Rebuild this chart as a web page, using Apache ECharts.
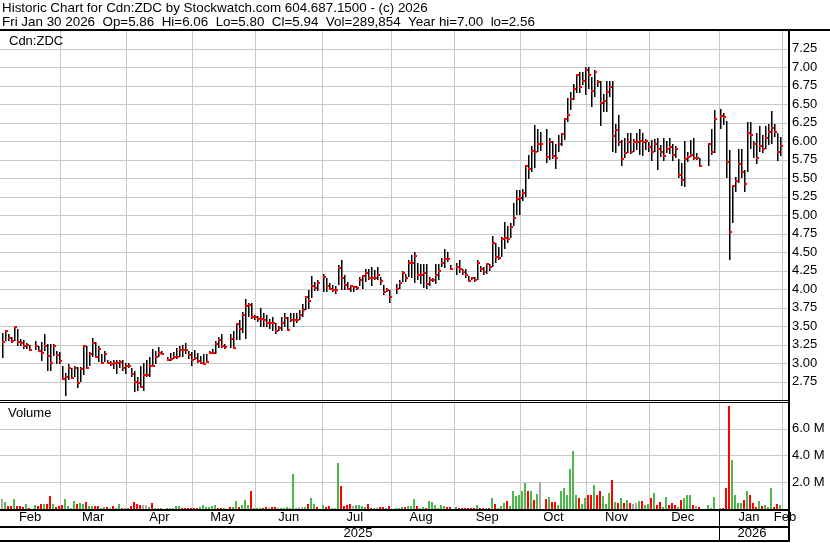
<!DOCTYPE html>
<html><head><meta charset="utf-8">
<script src="https://cdn.jsdelivr.net/npm/echarts@6/dist/echarts.min.js"></script>
<style>html,body{margin:0;padding:0;background:#fff;overflow:hidden}#c{width:830px;height:543px}</style>
</head><body><div id="c"></div>
<script>
// ---------- text ----------
const HEADER1 = 'Historic Chart for Cdn:ZDC by Stockwatch.com 604.687.1500 - (c) 2026';
const HEADER2 = 'Fri Jan 30 2026  Op=5.86  Hi=6.06  Lo=5.80  Cl=5.94  Vol=289,854  Year hi=7.00  lo=2.56';
const SYMBOL = 'Cdn:ZDC';
const VOL_TITLE = 'Volume';
const MONTHS = ['Jan','Feb','Mar','Apr','May','Jun','Jul','Aug','Sep','Oct','Nov','Dec'];
// axis ranges / ticks
const PRICE_MIN = 2.5, PRICE_MAX = 7.5, PRICE_STEP = 0.25;
const VOL_MIN = 0, VOL_MAX = 8e6, VOL_STEP = 2e6;
// weekday calendar of the chart (first slot .. last slot)
const FIRST_DAY = '2025-01-31', LAST_DAY = '2026-02-03', DATA_START = '2025-02-03';
// ---------- data: one entry per weekday from 2025-02-03 to 2026-01-30 (null = market closed) ----------
const high = [
 3.41,3.45,3.39,3.35,3.50,3.47,3.33,3.31,3.28,3.25,null,3.30,3.24,3.29,3.40,3.26,3.26,3.26,3.17,3.15,
 2.97,2.87,2.99,2.93,2.97,2.95,2.95,3.25,3.24,3.15,3.34,3.29,3.24,3.13,3.16,3.04,3.03,3.04,3.04,3.04,3.04,
 3.00,3.00,2.93,2.90,2.81,2.97,3.01,3.04,3.09,3.20,3.17,3.22,3.17,null,3.08,3.14,3.15,3.21,3.23,3.25,3.27,3.16,
 3.15,3.18,3.14,3.10,3.12,3.12,3.16,3.19,3.30,3.35,3.40,3.26,null,3.40,3.44,3.55,3.58,3.70,3.87,3.81,3.81,3.65,
 3.64,3.75,3.68,3.65,3.60,3.63,3.54,3.51,3.63,3.68,3.62,3.68,3.68,3.68,3.72,3.80,3.91,3.99,4.18,4.10,4.12,
 null,4.21,4.15,4.09,4.06,4.04,4.33,4.39,4.20,4.10,4.06,4.05,4.04,4.16,4.20,4.27,4.27,4.30,4.26,4.30,4.16,4.06,4.02,
 3.99,null,4.07,4.13,4.25,4.21,4.40,4.46,4.51,4.36,4.34,4.34,4.34,4.17,4.15,4.34,4.34,4.42,4.54,4.51,4.33,
 null,4.35,4.39,4.28,4.27,4.18,4.17,4.17,4.40,4.32,4.30,4.36,4.34,4.72,4.62,4.57,4.71,4.91,4.85,4.90,5.17,5.34,
 5.34,5.35,5.68,5.82,5.93,6.22,6.17,6.12,null,6.17,6.04,6.00,5.96,6.08,6.10,6.31,6.58,6.67,6.78,6.90,6.94,6.94,7.00,
 7.00,6.87,6.97,6.83,6.81,6.64,6.81,6.82,6.82,6.24,6.36,6.02,6.05,6.11,6.11,6.03,6.11,6.17,6.11,6.03,
 5.99,6.02,6.03,6.04,5.95,6.04,6.01,6.04,5.96,5.93,5.76,5.71,6.01,5.85,6.02,6.05,5.84,5.78,null,null,5.97,6.16,6.42,
 null,6.43,6.38,6.28,5.88,5.41,5.52,5.90,5.90,5.61,6.26,6.26,6.00,6.11,6.20,6.09,6.20,6.24,6.41,6.24,6.11,6.06];
const low = [
 3.07,3.30,3.30,3.28,3.30,3.24,3.24,3.19,3.20,3.18,null,3.18,3.15,3.03,3.17,2.90,2.89,3.10,2.99,2.99,
 2.77,2.56,2.77,2.79,2.81,2.66,2.75,2.84,2.92,2.97,3.08,3.08,3.02,3.00,3.02,3.00,2.97,2.92,2.86,2.93,2.89,
 2.86,2.93,2.82,2.61,2.63,2.66,2.63,2.81,2.81,2.97,2.99,3.08,3.12,null,3.03,3.03,3.06,3.06,3.09,3.09,3.12,3.06,
 2.96,3.04,3.00,3.00,2.98,3.01,3.12,3.12,3.12,3.21,3.21,3.20,null,3.21,3.19,3.31,3.31,3.41,3.33,3.62,3.60,3.58,
 3.56,3.49,3.49,3.49,3.47,3.43,3.40,3.43,3.44,3.49,3.44,3.56,3.49,3.54,3.58,3.62,3.72,3.74,3.88,3.98,3.98,
 null,3.97,3.97,3.99,3.96,3.94,4.06,3.99,3.99,3.99,3.97,3.96,3.99,4.04,4.01,4.10,4.13,4.04,4.12,4.12,4.06,3.92,3.97,
 3.82,null,3.93,4.00,4.10,4.10,4.17,4.15,4.08,4.13,4.07,4.02,4.00,4.04,4.10,4.07,4.13,4.30,4.29,4.37,4.26,
 null,4.19,4.22,4.19,4.15,4.10,4.13,4.10,4.13,4.23,4.19,4.21,4.25,4.30,4.35,4.40,4.43,4.55,4.63,4.69,4.85,5.00,
 5.00,5.20,5.25,5.49,5.58,5.64,5.85,5.87,null,5.71,5.75,5.76,5.62,5.85,5.93,6.02,6.26,6.42,6.56,6.65,6.65,6.76,6.63,
 6.70,6.47,6.60,6.74,6.21,6.40,6.40,6.60,5.86,5.84,5.94,5.66,5.77,5.84,5.83,5.85,5.88,5.81,5.80,5.88,
 5.86,5.73,5.86,5.61,5.79,5.74,5.84,5.83,5.74,5.78,5.51,5.40,5.38,5.72,5.79,5.75,5.75,5.66,null,null,5.67,5.81,5.84,
 null,6.17,6.22,5.51,4.40,4.89,5.32,5.43,5.51,5.32,5.59,5.90,5.77,5.70,5.86,5.84,5.90,5.95,5.97,6.06,5.73,5.80];
const close = [
 3.29,3.44,3.34,3.30,3.49,3.29,3.27,3.23,3.25,3.18,null,3.23,3.16,3.14,3.23,3.10,3.00,3.24,3.11,3.03,
 2.79,2.82,2.93,2.80,2.93,2.73,2.92,3.23,2.94,3.13,3.28,3.08,3.19,3.01,3.13,3.00,2.99,3.00,3.00,3.02,2.93,
 2.97,2.97,2.86,2.75,2.74,2.68,2.84,2.84,2.97,2.97,3.09,3.14,3.13,null,3.05,3.06,3.09,3.08,3.18,3.18,3.18,3.11,
 3.04,3.07,3.03,3.00,2.99,3.02,3.14,3.14,3.26,3.32,3.23,3.22,null,3.33,3.21,3.53,3.46,3.65,3.78,3.79,3.63,3.62,
 3.60,3.60,3.58,3.55,3.55,3.55,3.44,3.48,3.55,3.61,3.45,3.58,3.58,3.58,3.65,3.72,3.89,3.84,4.05,4.02,4.08,
 null,4.16,4.04,4.01,3.99,3.99,4.29,4.15,4.06,4.01,4.04,4.03,4.02,4.12,4.18,4.22,4.15,4.15,4.15,4.19,4.11,3.96,3.99,
 3.90,null,4.01,4.08,4.22,4.15,4.35,4.35,4.45,4.19,4.19,4.22,4.07,4.13,4.13,4.19,4.25,4.36,4.41,4.41,4.28,
 null,4.30,4.28,4.24,4.19,4.11,4.15,4.13,4.36,4.28,4.24,4.34,4.30,4.63,4.43,4.42,4.68,4.70,4.68,4.84,4.96,5.22,
 5.24,5.30,5.66,5.62,5.87,5.85,5.96,5.96,null,5.79,5.99,5.80,5.77,5.97,6.10,6.30,6.35,6.57,6.71,6.89,6.74,6.81,6.96,
 6.89,6.68,6.94,6.80,6.52,6.54,6.66,6.73,6.07,6.15,5.99,5.76,5.84,5.99,5.85,5.99,5.99,6.01,5.99,6.00,
 5.92,5.86,5.97,5.89,5.86,5.80,5.89,5.92,5.81,5.89,5.54,5.48,5.76,5.79,5.82,5.77,5.77,5.67,null,null,5.96,5.86,6.30,
 null,6.34,6.33,5.72,4.77,5.40,5.47,5.69,5.58,5.42,6.11,6.09,5.96,5.78,5.94,5.90,6.05,6.12,6.18,6.13,5.86,5.94];
// volume in millions of shares
const volumeM = [
 0.72,0.54,0.20,0.26,0.72,0.26,0.26,0.15,0.41,0.10,null,0.31,0.20,0.41,0.36,0.41,0.95,0.36,0.15,0.26,
 0.31,0.72,0.23,0.08,0.62,0.41,0.46,0.41,0.54,0.20,0.26,0.23,0.23,0.03,0.15,0.18,0.05,0.26,0.05,0.38,0.08,
 0.05,0.02,0.20,0.51,0.38,0.31,0.31,0.31,0.18,0.46,0.08,0.08,0.08,null,0.03,0.03,0.05,0.20,0.20,0.03,0.03,0.08,
 0.08,0.03,0.03,0.15,0.28,0.15,0.15,0.26,0.28,0.02,0.01,0.01,null,0.13,0.18,0.59,0.18,0.31,0.69,0.31,1.31,0.03,
 0.03,0.01,0.03,0.18,0.08,0.13,0.15,0.01,0.03,0.01,0.15,0.03,2.62,0.03,0.18,0.15,0.18,0.41,0.85,0.36,0.15,
 null,0.31,0.18,0.23,0.01,0.01,3.46,1.69,0.23,0.33,0.36,0.23,0.28,0.31,0.23,0.18,0.36,0.01,0.08,0.08,0.13,0.15,0.01,
 0.26,null,0.08,0.08,0.15,0.15,0.23,0.26,0.72,0.23,0.02,0.18,0.08,0.62,0.54,0.31,0.02,0.31,0.26,0.18,0.18,
 null,0.18,0.02,0.02,0.02,0.08,0.03,0.05,0.31,0.03,0.10,0.08,0.03,0.80,0.41,0.08,0.26,0.46,0.62,0.26,1.38,0.97,
 1.03,1.31,1.92,1.33,1.38,0.64,1.10,2.00,null,0.77,0.92,0.54,0.51,0.33,1.38,1.56,1.03,3.00,4.31,1.08,0.80,0.41,0.80,
 1.03,1.03,1.77,1.03,1.38,0.97,0.41,1.23,2.15,0.51,0.46,0.80,0.44,0.67,0.46,0.36,0.46,0.59,0.59,0.28,
 0.36,0.85,1.23,0.33,0.54,0.18,0.87,0.33,0.46,0.28,0.15,0.67,0.80,1.08,1.03,0.31,0.23,0.18,null,null,0.31,0.05,0.87,
 null,0.08,0.08,1.54,7.72,3.69,1.08,0.46,0.46,0.64,1.36,1.08,0.46,0.15,0.62,0.26,0.31,0.18,1.54,0.15,0.36,0.29];
// volume bar colour per day: u = up, d = down, n = unchanged, . = closed
const volumeDir =
 'nuddudddud.udduddudd' + 'duuuuduuduudduududuud' + 'nuddddnnuduuu.uuuuuddd' + 'ddduuuuuuddu.duuduuudu' +
 'uuddudduuuuuuunnuduud' + '.uddunuddddnuuuudduuddu' + 'd.uuuduuudnuduuuuuudd' + '.udddddduddududuuuduuu' +
 'uuududun.dudduuuuuuuduu' + 'ddudduuududududnnudu' + 'ududduuddduduuudnd..uuu' + '.uddduuuududdduduuuddu';
const DIR_COLORS = {u:'#4cb84c', d:'#ff0000', n:'#a8a8a8'};

// ---------- build ----------
const FONT = '"Liberation Sans", Arial, sans-serif';
const GRID_COLOR = '#c8c8c8';
const day = s => new Date(s + 'T00:00:00Z');
const cats = [];
for (let d = day(FIRST_DAY); d <= day(LAST_DAY); d.setUTCDate(d.getUTCDate() + 1)) {
  const w = d.getUTCDay(); if (w === 0 || w === 6) continue;
  cats.push(d.toISOString().slice(0, 10));
}
const off = cats.indexOf(DATA_START);
const priceData = [], volData = [], volColors = [];
for (let i = 0; i < high.length; i++) {
  if (high[i] == null) continue;
  priceData.push([i + off, high[i], low[i], close[i]]);
  volData.push([i + off, volumeM[i] * 1e6]);
  volColors.push(DIR_COLORS[volumeDir[i]] || DIR_COLORS.n);
}
// month boundary = last weekday on or before the 1st of the month
const monthLine = new Set(), yearLine = new Set();
cats.forEach((s, k) => {
  if (k === 0) return;
  const d = day(s);
  let m = -1;
  if (d.getUTCDate() === 1) m = d.getUTCMonth();
  else if (d.getUTCDay() === 5) {
    for (const add of [1, 2]) { const a = day(s); a.setUTCDate(a.getUTCDate() + add); if (a.getUTCDate() === 1) m = a.getUTCMonth(); }
  }
  if (m >= 0) { monthLine.add(k); if (m === 0) yearLine.add(k); }
});
const last = cats.length - 1;
const mb = [0, ...[...monthLine].sort((a, b) => a - b), last];
const monthLabel = new Map();
for (let j = 0; j < mb.length - 1; j++) { const m = Math.floor((mb[j] + mb[j + 1]) / 2); monthLabel.set(m, MONTHS[day(cats[m]).getUTCMonth()]); }
const yb = [0, ...[...yearLine].sort((a, b) => a - b), last];
const yearLabel = new Map();
for (let j = 0; j < yb.length - 1; j++) { const m = Math.floor((yb[j] + yb[j + 1]) / 2); yearLabel.set(m, String(day(cats[m]).getUTCFullYear())); }

const W = 788;
const hidden = {show: false};
function catAxis(grid, extra) {
  return Object.assign({type: 'category', gridIndex: grid, data: cats, boundaryGap: false,
    axisLine: hidden, axisTick: hidden, axisLabel: hidden,
    splitLine: {show: true, interval: (i) => monthLine.has(i), lineStyle: {color: GRID_COLOR, width: 1}}}, extra || {});
}
const chart = echarts.init(document.getElementById('c'), null, {renderer: 'canvas'});
chart.setOption({
  animation: false,
  backgroundColor: '#fff',
  grid: [
    {left: 0, width: W, top: 30.3, height: 370},
    {left: 0, width: W, top: 402, height: 107},
    {left: 0, width: W, top: 509, height: 32},
    {left: 0, width: W, top: 527, height: 14}
  ],
  xAxis: [
    catAxis(0),
    catAxis(1),
    catAxis(2, {position: 'top',
      axisLabel: {show: true, inside: true, margin: 2, interval: (i) => monthLabel.has(i),
        formatter: (v, i) => monthLabel.get(i) || '', fontSize: 13, fontFamily: FONT, color: '#000'},
      splitLine: {show: true, interval: (i) => yearLine.has(i), lineStyle: {color: '#000', width: 1}}}),
    catAxis(3, {position: 'top',
      axisLabel: {show: true, inside: true, margin: 0, interval: (i) => yearLabel.has(i),
        formatter: (v, i) => yearLabel.get(i) || '', fontSize: 13, fontFamily: FONT, color: '#000'},
      splitLine: hidden})
  ],
  yAxis: [
    {type: 'value', gridIndex: 0, position: 'right', min: PRICE_MIN, max: PRICE_MAX, interval: PRICE_STEP,
      axisLine: hidden, axisTick: hidden,
      axisLabel: {margin: 4, formatter: v => v.toFixed(2), showMinLabel: false, showMaxLabel: false,
        fontSize: 13, fontFamily: FONT, color: '#000'},
      splitLine: {lineStyle: {color: GRID_COLOR, width: 1}}},
    {type: 'value', gridIndex: 1, position: 'right', min: VOL_MIN, max: VOL_MAX, interval: VOL_STEP,
      axisLine: hidden, axisTick: hidden,
      axisLabel: {margin: 4, formatter: v => (v / 1e6).toFixed(1) + ' M', showMinLabel: false, showMaxLabel: false,
        fontSize: 13, fontFamily: FONT, color: '#000'},
      splitLine: {lineStyle: {color: GRID_COLOR, width: 1}}},
    {type: 'value', gridIndex: 2, show: false},
    {type: 'value', gridIndex: 3, show: false}
  ],
  series: [
    {type: 'custom', xAxisIndex: 0, yAxisIndex: 0, data: priceData, encode: {x: 0, y: [1, 2, 3]}, silent: true,
      renderItem: (params, api) => {
        const i = api.value(0);
        const pH = api.coord([i, api.value(1)]);
        const yL = Math.round(api.coord([i, api.value(2)])[1]);
        const yC = Math.round(api.coord([i, api.value(3)])[1]);
        const x = Math.floor(pH[0]);
        const yH = Math.round(pH[1]);
        return {type: 'group', children: [
          {type: 'rect', shape: {x: x - 1, y: yH, width: 1.5, height: Math.max(1, yL - yH)}, style: {fill: '#000'}},
          {type: 'rect', shape: {x: x - 1, y: yC - 1, width: 3, height: 2}, style: {fill: '#ff0000'}}
        ]};
      }},
    {type: 'custom', xAxisIndex: 1, yAxisIndex: 1, data: volData, encode: {x: 0, y: 1}, silent: true,
      renderItem: (params, api) => {
        const i = api.value(0);
        const p = api.coord([i, api.value(1)]);
        const base = Math.round(api.coord([i, 0])[1]);
        const x = Math.floor(p[0]);
        const top = Math.min(Math.round(p[1]), base - 1);
        return {type: 'rect', shape: {x: x - 2, y: top, width: 2, height: base - top},
          style: {fill: volColors[params.dataIndex]}};
      }}
  ],
  graphic: [
    {type: 'text', z: 100, style: {x: 2, y: 8, text: HEADER1, font: '13.4px ' + FONT, fill: '#000', verticalAlign: 'middle'}},
    {type: 'text', z: 100, style: {x: 2, y: 22, text: HEADER2, font: '13.4px ' + FONT, fill: '#000', verticalAlign: 'middle'}},
    {type: 'text', z: 100, style: {x: 9, y: 41, text: SYMBOL, font: '13px ' + FONT, fill: '#000', verticalAlign: 'middle'}},
    {type: 'text', z: 100, style: {x: 8, y: 413, text: VOL_TITLE, font: '13px ' + FONT, fill: '#000', verticalAlign: 'middle'}},
    {type: 'rect', z: 100, shape: {x: 0, y: 29, width: 830, height: 2}, style: {fill: '#000'}},
    {type: 'rect', z: 100, shape: {x: 0, y: 400, width: 790, height: 1}, style: {fill: '#000'}},
    {type: 'rect', z: 100, shape: {x: 0, y: 402, width: 790, height: 1}, style: {fill: '#000'}},
    {type: 'rect', z: 100, shape: {x: 0, y: 509, width: 790, height: 2}, style: {fill: '#000'}},
    {type: 'rect', z: 100, shape: {x: 0, y: 526, width: 790, height: 2}, style: {fill: '#000'}},
    {type: 'rect', z: 100, shape: {x: 0, y: 540, width: 790, height: 2}, style: {fill: '#000'}},
    {type: 'rect', z: 100, shape: {x: 788, y: 29, width: 2, height: 513}, style: {fill: '#000'}}
  ]
});
</script>
</body></html>
